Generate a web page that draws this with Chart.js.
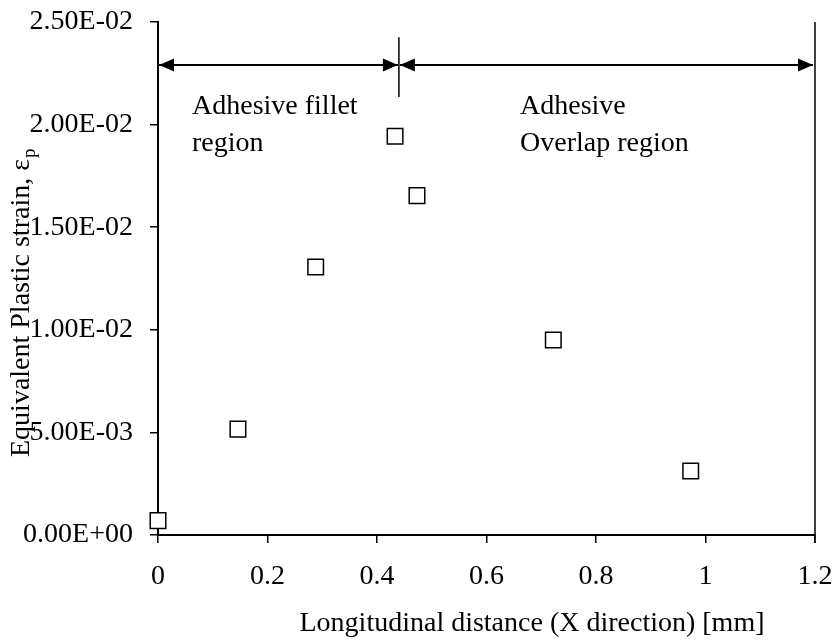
<!DOCTYPE html>
<html>
<head>
<meta charset="utf-8">
<script src="https://cdn.jsdelivr.net/npm/chart.js@4.4.1/dist/chart.umd.min.js"></script>
<style>
  html, body { margin: 0; padding: 0; background: #fff; }
</style>
</head>
<body>
<canvas id="c" width="836" height="643"></canvas>
<script>
// data
const distX   = [0, 0.146, 0.288, 0.433, 0.473, 0.722, 0.973];
const strainY = [0.0007, 0.00516, 0.01306, 0.01943, 0.01654, 0.0095, 0.00312];

const xTicks      = [0, 0.2, 0.4, 0.6, 0.8, 1, 1.2];
const xTickLabels = ['0', '0.2', '0.4', '0.6', '0.8', '1', '1.2'];
const yTicks      = [0, 0.005, 0.01, 0.015, 0.02, 0.025];
const yTickLabels = ['0.00E+00', '5.00E-03', '1.00E-02', '1.50E-02', '2.00E-02', '2.50E-02'];

const xTitle    = 'Longitudinal distance (X direction) [mm]';
const yTitle    = 'Equivalent Plastic strain, ε';
const yTitleSub = 'p';
const filletText  = ['Adhesive fillet', 'region'];
const overlapText = ['Adhesive', 'Overlap region'];
const splitX = 0.44;

const FONT = 'Liberation Serif';

function arrowHead(ctx, tipX, y, dir) {
  ctx.beginPath();
  ctx.moveTo(tipX, y);
  ctx.lineTo(tipX - dir * 15, y - 6.5);
  ctx.lineTo(tipX - dir * 15, y + 6.5);
  ctx.closePath();
  ctx.fill();
}

const overlay = {
  id: 'overlay',
  beforeDatasetsDraw(chart) {
    const { ctx, scales: { x, y } } = chart;
    // right frame line at x = 1.2
    ctx.save();
    ctx.strokeStyle = '#000';
    ctx.lineWidth = 1.5;
    ctx.beginPath();
    ctx.moveTo(x.getPixelForValue(1.2), y.getPixelForValue(0.025));
    ctx.lineTo(x.getPixelForValue(1.2), y.getPixelForValue(0) + 8);
    ctx.stroke();
    ctx.restore();
  },
  afterDatasetsDraw(chart) {
    const { ctx, scales: { x, y } } = chart;
    ctx.save();
    ctx.strokeStyle = '#000';
    ctx.fillStyle = '#000';

    // region arrows
    const ay = y.getPixelForValue(0.0229);
    const x0 = x.getPixelForValue(0) + 1;
    const xs = x.getPixelForValue(splitX);
    const x1 = x.getPixelForValue(1.2) - 2;
    ctx.lineWidth = 2;
    ctx.beginPath();
    ctx.moveTo(x0, ay); ctx.lineTo(xs - 1, ay);
    ctx.moveTo(xs + 1, ay); ctx.lineTo(x1, ay);
    ctx.stroke();
    arrowHead(ctx, x0, ay, -1);
    arrowHead(ctx, xs - 1, ay, 1);
    arrowHead(ctx, xs + 1, ay, -1);
    arrowHead(ctx, x1, ay, 1);

    // divider
    ctx.lineWidth = 1.5;
    ctx.beginPath();
    ctx.moveTo(xs, y.getPixelForValue(0.02426));
    ctx.lineTo(xs, y.getPixelForValue(0.02134));
    ctx.stroke();

    // region labels
    ctx.font = '28px "' + FONT + '"';
    ctx.textAlign = 'left';
    ctx.textBaseline = 'middle';
    ctx.fillText(filletText[0], 192, 107);
    ctx.fillText(filletText[1], 192, 144);
    ctx.fillText(overlapText[0], 520, 107);
    ctx.fillText(overlapText[1], 520, 144);

    // x title
    ctx.textAlign = 'center';
    ctx.fillText(xTitle, 532, 624);

    // y title, rotated, with subscript
    ctx.save();
    ctx.translate(29, 457);
    ctx.rotate(-Math.PI / 2);
    ctx.textAlign = 'left';
    ctx.textBaseline = 'alphabetic';
    ctx.fillText(yTitle, 0, 0);
    const w = ctx.measureText(yTitle).width;
    ctx.font = '19px "' + FONT + '"';
    ctx.fillText(yTitleSub, w + 1, 6);
    ctx.restore();

    ctx.restore();
  }
};

const tickFont = { family: FONT, size: 28 };

new Chart(document.getElementById('c'), {
  type: 'scatter',
  data: {
    datasets: [{
      data: distX.map((v, i) => ({ x: v, y: strainY[i] })),
      pointStyle: 'rect',
      pointRadius: 11,
      pointHoverRadius: 11,
      borderColor: '#000',
      backgroundColor: '#fff',
      borderWidth: 1.5,
      clip: false
    }]
  },
  options: {
    responsive: false,
    animation: false,
    devicePixelRatio: 1,
    layout: { padding: { top: 22, right: 21, left: 0, bottom: 0 } },
    plugins: { legend: { display: false }, tooltip: { enabled: false } },
    scales: {
      x: {
        type: 'linear', min: 0, max: 1.2,
        afterBuildTicks: s => { s.ticks = xTicks.map(v => ({ value: v })); },
        afterFit: s => { s.height = 108; s.paddingLeft = 0; s.paddingRight = 0; },
        grid: { drawOnChartArea: false, drawTicks: true, tickLength: 8, color: '#000', lineWidth: 1.5 },
        border: { display: true, color: '#000', width: 2 },
        ticks: {
          color: '#000', font: tickFont, padding: 17, maxRotation: 0, autoSkip: false,
          callback: (v, i) => xTickLabels[i]
        }
      },
      y: {
        type: 'linear', min: 0, max: 0.025,
        afterBuildTicks: s => { s.ticks = yTicks.map(v => ({ value: v })); },
        afterFit: s => { s.width = 158; s.paddingTop = 0; s.paddingBottom = 0; },
        grid: { drawOnChartArea: false, drawTicks: true, tickLength: 8, color: '#000', lineWidth: 1.5 },
        border: { display: true, color: '#000', width: 2 },
        ticks: {
          color: '#000', font: tickFont, padding: 17, autoSkip: false,
          callback: (v, i) => yTickLabels[i]
        }
      }
    }
  },
  plugins: [overlay]
});
</script>
</body>
</html>
